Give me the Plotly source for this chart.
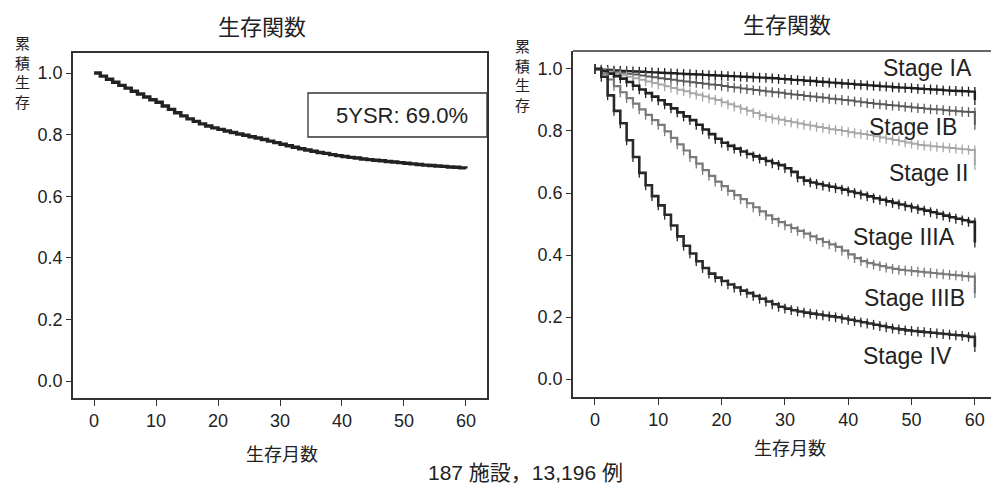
import plotly.graph_objects as go

# ---------------- data ----------------
months = list(range(61))

overall = [1.000, 0.990, 0.980, 0.970, 0.960, 0.951, 0.941, 0.932, 0.922, 0.913,
           0.905, 0.893, 0.882, 0.871, 0.861, 0.851, 0.843, 0.835, 0.828, 0.822,
           0.817, 0.812, 0.807, 0.802, 0.798, 0.793, 0.789, 0.784, 0.779, 0.774,
           0.769, 0.764, 0.759, 0.754, 0.750, 0.746, 0.742, 0.739, 0.735, 0.732,
           0.729, 0.726, 0.724, 0.721, 0.719, 0.717, 0.715, 0.713, 0.711, 0.709,
           0.707, 0.705, 0.703, 0.701, 0.700, 0.698, 0.697, 0.695, 0.694, 0.692,
           0.690]

stage_names = ["Stage IA", "Stage IB", "Stage II", "Stage IIIA", "Stage IIIB", "Stage IV"]

stage_IA = [1.000, 0.998, 0.997, 0.995, 0.994, 0.993, 0.992, 0.991, 0.990, 0.989,
            0.988, 0.987, 0.986, 0.985, 0.984, 0.983, 0.982, 0.981, 0.980, 0.979,
            0.978, 0.977, 0.976, 0.975, 0.974, 0.973, 0.972, 0.971, 0.970, 0.968,
            0.967, 0.965, 0.964, 0.962, 0.961, 0.959, 0.958, 0.956, 0.955, 0.953,
            0.952, 0.950, 0.949, 0.947, 0.946, 0.944, 0.943, 0.941, 0.940, 0.939,
            0.938, 0.936, 0.935, 0.934, 0.933, 0.931, 0.930, 0.929, 0.928, 0.927,
            0.926]
stage_IB = [1.000, 0.997, 0.994, 0.991, 0.988, 0.985, 0.982, 0.979, 0.976, 0.973,
            0.970, 0.968, 0.965, 0.962, 0.960, 0.957, 0.955, 0.952, 0.950, 0.948,
            0.945, 0.942, 0.940, 0.937, 0.935, 0.932, 0.930, 0.927, 0.925, 0.923,
            0.920, 0.918, 0.916, 0.913, 0.911, 0.909, 0.907, 0.904, 0.902, 0.900,
            0.898, 0.895, 0.893, 0.890, 0.888, 0.886, 0.884, 0.882, 0.880, 0.878,
            0.876, 0.874, 0.872, 0.870, 0.869, 0.867, 0.865, 0.864, 0.862, 0.861,
            0.860]
stage_II = [1.000, 0.995, 0.990, 0.985, 0.980, 0.975, 0.970, 0.965, 0.960, 0.955,
            0.950, 0.944, 0.939, 0.933, 0.928, 0.922, 0.917, 0.911, 0.905, 0.900,
            0.893, 0.886, 0.879, 0.872, 0.865, 0.858, 0.851, 0.845, 0.840, 0.836,
            0.832, 0.828, 0.824, 0.820, 0.817, 0.813, 0.810, 0.806, 0.803, 0.800,
            0.796, 0.793, 0.790, 0.787, 0.783, 0.779, 0.775, 0.771, 0.767, 0.763,
            0.759, 0.755, 0.753, 0.751, 0.749, 0.747, 0.745, 0.743, 0.741, 0.739,
            0.737]
stage_IIIA = [1.000, 0.993, 0.985, 0.977, 0.969, 0.958, 0.946, 0.934, 0.922, 0.911,
              0.899, 0.886, 0.873, 0.860, 0.847, 0.835, 0.820, 0.805, 0.790, 0.775,
              0.762, 0.752, 0.743, 0.734, 0.726, 0.718, 0.711, 0.703, 0.696, 0.690,
              0.680, 0.668, 0.650, 0.640, 0.634, 0.629, 0.624, 0.620, 0.616, 0.611,
              0.605, 0.600, 0.595, 0.589, 0.583, 0.578, 0.573, 0.568, 0.563, 0.558,
              0.553, 0.548, 0.543, 0.538, 0.533, 0.527, 0.522, 0.517, 0.512, 0.507,
              0.504]
stage_IIIB = [1.000, 0.985, 0.966, 0.945, 0.925, 0.906, 0.888, 0.870, 0.852, 0.835,
              0.820, 0.799, 0.778, 0.757, 0.737, 0.716, 0.695, 0.674, 0.655, 0.637,
              0.622, 0.607, 0.593, 0.580, 0.567, 0.554, 0.541, 0.528, 0.516, 0.506,
              0.496, 0.487, 0.478, 0.469, 0.460, 0.451, 0.442, 0.434, 0.426, 0.414,
              0.402, 0.390, 0.380, 0.374, 0.369, 0.364, 0.359, 0.355, 0.352, 0.350,
              0.348, 0.346, 0.344, 0.342, 0.340, 0.338, 0.336, 0.334, 0.332, 0.330,
              0.328]
stage_IV = [1.000, 0.975, 0.915, 0.865, 0.825, 0.770, 0.716, 0.665, 0.625, 0.590,
            0.560, 0.530, 0.495, 0.460, 0.430, 0.405, 0.380, 0.358, 0.340, 0.327,
            0.316, 0.305, 0.295, 0.285, 0.277, 0.268, 0.259, 0.250, 0.241, 0.233,
            0.227, 0.222, 0.218, 0.214, 0.211, 0.208, 0.205, 0.202, 0.199, 0.195,
            0.191, 0.187, 0.183, 0.179, 0.175, 0.171, 0.167, 0.163, 0.160, 0.157,
            0.155, 0.153, 0.151, 0.149, 0.147, 0.145, 0.143, 0.141, 0.139, 0.136,
            0.134]
# final value at 60 months (last drop)
stage_final = [0.900, 0.820, 0.690, 0.440, 0.277, 0.103]

stage_series = [stage_IA, stage_IB, stage_II, stage_IIIA, stage_IIIB, stage_IV]

x_ticks = [0, 10, 20, 30, 40, 50, 60]
y_ticks = [0.0, 0.2, 0.4, 0.6, 0.8, 1.0]
y_tick_labels = ["0.0", "0.2", "0.4", "0.6", "0.8", "1.0"]

title_text = "生存関数"
y_title_text = "累<br>積<br>生<br>存"
x_title_text = "生存月数"
footer_text = "187 施設，13,196 例"
ysr_text = "5YSR: 69.0%"

# ---------------- styles / geometry ----------------
stage_colors = ["#1e1e1e", "#5a5a5a", "#a8a8a8", "#222222", "#7a7a7a", "#2a2a2a"]
stage_widths = [2.4, 2.0, 2.0, 2.6, 2.2, 2.6]
txt_font = "Liberation Sans, Arial, sans-serif"
cjk_font = "Noto Sans CJK JP, sans-serif"
mix_font = "Liberation Sans, Noto Sans CJK JP, sans-serif"

W, H = 991, 491


def fx(p):
    return p / W


def fy(p):
    return 1 - p / H


fig = go.Figure()

fig.add_trace(go.Scatter(
    x=months, y=overall, mode="lines", line=dict(shape="hv", color="#222222", width=3.4),
    xaxis="x", yaxis="y", showlegend=False))

for name, vals, fin, col, w in zip(stage_names, stage_series, stage_final, stage_colors, stage_widths):
    xs = months + [months[-1]]
    ys = vals + [fin]
    fig.add_trace(go.Scatter(
        x=xs, y=ys, mode="lines+markers", name=name,
        line=dict(shape="hv", color=col, width=w),
        marker=dict(symbol="line-ns", size=7, line=dict(color=col, width=1.3)),
        xaxis="x2", yaxis="y2", showlegend=False))

axis_common = dict(showgrid=False, zeroline=False, showline=True, linecolor="#333333",
                   linewidth=1.5, ticks="outside", tickcolor="#333333", tickwidth=1.3,
                   tickfont=dict(family=txt_font, size=18, color="#222222"))

fig.update_layout(
    width=W, height=H, margin=dict(l=0, r=0, t=0, b=0),
    paper_bgcolor="white", plot_bgcolor="white",
    xaxis=dict(domain=[fx(73), fx(487)], range=[-3.4, 63.4], tickvals=x_ticks,
               mirror=True, ticklen=6, anchor="y", **axis_common),
    yaxis=dict(domain=[fy(398), fy(53)], range=[-0.055, 1.065], tickvals=y_ticks,
               ticktext=y_tick_labels, mirror=True, ticklen=5, anchor="x", **axis_common),
    xaxis2=dict(domain=[fx(573), 1.0], range=[-3.47, 62.55], tickvals=x_ticks,
                ticklen=6, anchor="y2", ticklabeloverflow="allow", **axis_common),
    yaxis2=dict(domain=[fy(397), fy(51)], range=[-0.058, 1.058], tickvals=y_ticks,
                ticktext=y_tick_labels, ticklen=5, anchor="x2", **axis_common),
)

shapes = [
    dict(type="line", xref="x2 domain", yref="y2 domain", x0=0, x1=1, y0=1, y1=1,
         line=dict(color="#333333", width=1.5)),
    dict(type="rect", xref="paper", yref="paper", x0=fx(308), x1=fx(487),
         y0=fy(137), y1=fy(93), line=dict(color="#333333", width=1.3),
         fillcolor="white"),
]
fig.update_layout(shapes=shapes)

ann = []


def add_text(text, x, y, size, family=cjk_font, xanchor="center"):
    ann.append(dict(text=text, x=fx(x), y=fy(y), xref="paper", yref="paper",
                    showarrow=False, xanchor=xanchor, yanchor="middle",
                    font=dict(family=family, size=size, color="#222222")))


add_text(title_text, 262, 25, 22)
add_text(title_text, 787, 23, 22)
add_text(y_title_text, 22, 72, 15)
add_text(y_title_text, 522, 75, 15)
add_text(x_title_text, 282, 453, 18)
add_text(x_title_text, 790, 447, 18)
add_text(footer_text, 525, 472, 21, family=mix_font)
add_text(ysr_text, 402, 116, 22, family=txt_font)

stage_label_pos = [(974, 68), (959, 127), (970, 173), (957, 237), (967, 298), (954, 356)]
for name, (px, py) in zip(stage_names, stage_label_pos):
    add_text(name, px, py, 23, family=txt_font, xanchor="right")

fig.update_layout(annotations=ann)

fig.write_html("out.html", config={"displayModeBar": False},
               post_script="document.body.style.margin='0px';document.body.style.overflow='hidden';")
